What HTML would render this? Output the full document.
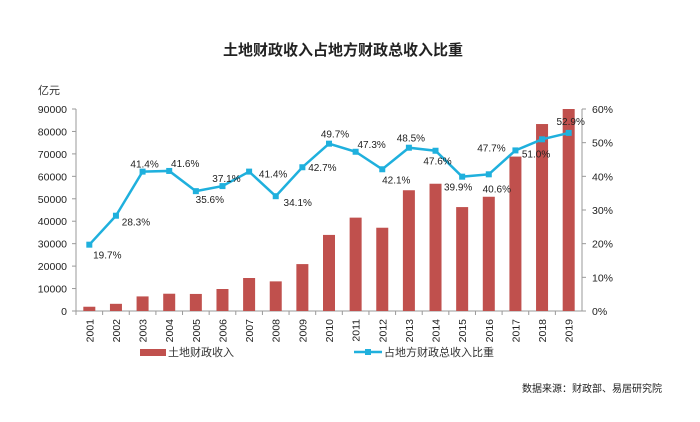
<!DOCTYPE html>
<html><head><meta charset="utf-8"><style>
body{margin:0;background:#fff;font-family:"Liberation Sans","Noto Sans CJK SC",sans-serif;}
svg text{font-family:"Liberation Sans","Noto Sans CJK SC",sans-serif;}
</style></head><body>
<svg width="700" height="417" xmlns="http://www.w3.org/2000/svg">
<text x="343" y="55" text-anchor="middle" font-size="15" font-weight="bold" fill="#222">土地财政收入占地方财政总收入比重</text>
<text x="38" y="94" font-size="11" fill="#333">亿元</text>
<g id="axes"></g><g id="bars"></g><g id="line"></g>
<g>
<rect x="140" y="349" width="26" height="7" fill="#c0504d"/>
<text x="168" y="356" font-size="11" fill="#333">土地财政收入</text>
<line x1="354" y1="352" x2="382" y2="352" stroke="#1fb0dd" stroke-width="2.5"/>
<rect x="365" y="349" width="6" height="6" fill="#1fb0dd"/>
<text x="384" y="356" font-size="11" fill="#333">占地方财政总收入比重</text>
</g>
<text x="662" y="392" text-anchor="end" font-size="10" fill="#222">数据来源：财政部、易居研究院</text>
</svg>
<script>
const years=["2001","2002","2003","2004","2005","2006","2007","2008","2009","2010","2011","2012","2013","2014","2015","2016","2017","2018","2019"];
const revenue=[1900,3200,6500,7700,7600,9800,14700,13200,20900,33900,41600,37100,53800,56700,46300,50900,68800,83300,90000];
const share=[19.7,28.3,41.4,41.6,35.6,37.1,41.4,34.1,42.7,49.7,47.3,42.1,48.5,47.6,39.9,40.6,47.7,51.0,52.9];
const leftTicks=[0,10000,20000,30000,40000,50000,60000,70000,80000,90000];
const rightTicks=[0,10,20,30,40,50,60];
const shareLabelDy=[10,6,-8,-8,8,-8,2,6,0,-10,-8,10,-10,10,10,14,-3,14,-12];
const shareLabelDx=[8,10,-8,6,4,-6,14,12,10,-4,6,4,-8,-8,-14,-2,-34,-16,-8];
const NS="http://www.w3.org/2000/svg";
const X0=76,X1=582,Y0=311,Y1=109;
const step=(X1-X0)/years.length;
const xs=i=>X0+step*(i+0.5);
const yL=v=>Y0-(v/90000)*(Y0-Y1);
const yR=v=>Y0-(v/60)*(Y0-Y1);
function mk(tag,attrs,parent,text){const e=document.createElementNS(NS,tag);for(const k in attrs)e.setAttribute(k,attrs[k]);if(text!==undefined)e.textContent=text;parent.appendChild(e);return e;}
const axes=document.getElementById('axes'),bars=document.getElementById('bars'),line=document.getElementById('line');
let e=mk('line',{x1:X0,y1:Y1,x2:X0,y2:Y0,stroke:'#999'},axes);

e=mk('line',{x1:X1,y1:Y1,x2:X1,y2:Y0,stroke:'#999'},axes);

e=mk('line',{x1:X0,y1:Y0,x2:X1,y2:Y0,stroke:'#999'},axes);

leftTicks.forEach(t=>{mk('line',{x1:X0-4,y1:yL(t),x2:X0,y2:yL(t),stroke:'#999'},axes);
 const tx=mk('text',{x:X0-9,y:yL(t)+4,'text-anchor':'end','font-size':'10.5',fill:'#222'},axes,String(t));
 });
rightTicks.forEach(t=>{mk('line',{x1:X1,y1:yR(t),x2:X1+4,y2:yR(t),stroke:'#999'},axes);
 const tx=mk('text',{x:X1+10,y:yR(t)+4,'font-size':'10.5',fill:'#222'},axes,t+'%');
 });
years.forEach((y,i)=>{mk('line',{x1:X0+step*i,y1:Y0,x2:X0+step*i,y2:Y0+4,stroke:'#999'},axes);
 const tx=mk('text',{x:0,y:0,'font-size':'10.5',fill:'#222','text-anchor':'end',transform:`translate(${xs(i)+4},${Y0+8}) rotate(-90)`},axes,y);
 });
revenue.forEach((v,i)=>{const r=mk('rect',{x:xs(i)-6,y:yL(v),width:12,height:Y0-yL(v),fill:'#c0504d'},bars);
 });
const pl=mk('polyline',{points:share.map((v,i)=>xs(i)+','+yR(v)).join(' '),fill:'none',stroke:'#1fb0dd','stroke-width':2.5},line);

share.forEach((v,i)=>{const m=mk('rect',{x:xs(i)-3,y:yR(v)-3,width:6,height:6,fill:'#1fb0dd'},line);
 
 const t=mk('text',{x:xs(i)+shareLabelDx[i]+10,y:yR(v)+shareLabelDy[i]+4,'text-anchor':'middle','font-size':'10',fill:'#222'},line,v.toFixed(1)+'%');
 });
</script>
</body></html>
